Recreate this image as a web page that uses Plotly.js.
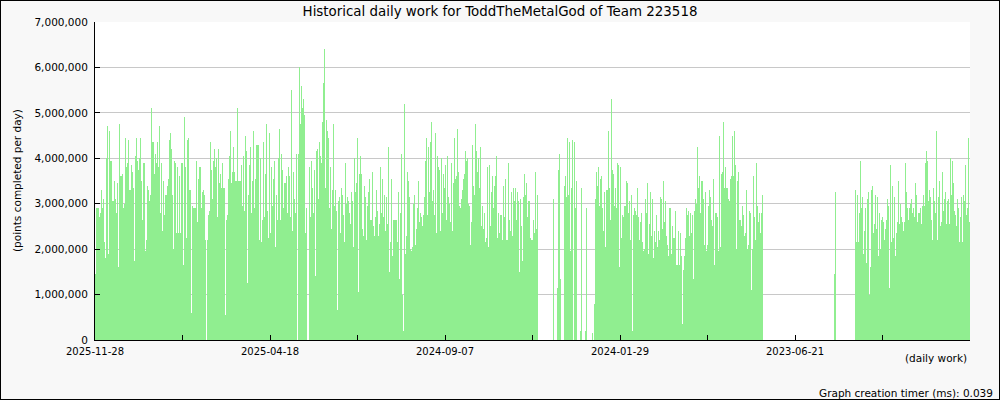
<!DOCTYPE html>
<html><head><meta charset="utf-8">
<script src="https://cdn.plot.ly/plotly-3.0.1.min.js"></script>
<style>html,body{margin:0;padding:0;background:#f8f8f8}#chart{width:998px;height:398px;border:1px solid #000}</style>
</head><body><div id="chart"></div><script>
// Daily work values in millions of points, newest (left) to oldest (right)
var segA = [1.45,2.9,2.9,2.9,2.7,2.8,3.3,2.9,3.1,2.15,
1.8,4.0,4.7,1.9,4.6,3.95,3.95,3.05,3.05,3.5,
3.1,2.8,3.45,1.6,4.75,3.6,3.6,3.65,2.9,3.0,
4.45,3.8,3.9,4.4,3.3,3.3,3.85,3.7,3.35,1.75,
4.05,4.45,3.95,3.75,4.0,4.45,3.5,2.65,3.9,3.9,
1.95,2.2,3.4,3.3,3.05,3.2,5.1,4.35,4.35,3.65,
4.1,3.9,4.35,3.8,4.7,2.8,3.9,2.4,3.5,2.75,
3.2,3.2,3.4,3.55,4.4,4.55,4.2,3.2,2.0,3.95,
3.9,2.35,3.8,2.35,3.6,2.35,3.9,3.9,1.65,4.9,
3.8,2.25,4.4,4.45,3.3,3.3,0.6,2.95,2.9,2.9,
2.9,3.95,2.6,3.55,3.8,3.8,2.9,3.25,3.3,3.2,
2.2,0,2.2,2.75,2.85,4.35,3.75,3.1,3.95,4.2,
3.8,4.0,2.7,4.2,3.45,3.65,3.35,3.9,3.35,3.35,
0.55,2.65,2.75,3.55,4.05,4.6,3.45,3.7,4.25,3.7,
3.5,3.5,5.1,3.5,3.5,3.5];
var segB = [3.85,2.95,4.05,2.85,4.5,4.15,1.25,3.2,3.85,4.25,
2.8,3.5,4.6,2.9,3.55,4.3,4.3,4.3,2.2,4.0,
2.15,2.65,4.35,2.7,3.65,4.75,2.85,2.25,4.55,2.35,
3.8,2.95,3.55,3.95,2.05,3.2,2.65,4.0,4.65,2.65,
4.1,3.75,2.9,3.45,3.45,3.6,2.8,3.8,3.6,2.7,
5.5,2.4,3.7,3.1,2.8,4.1,0,4.1,6.0,4.75,
5.6,5.1,5.3,4.95,2.35,2.9,0,0,3.8,2.7,
3.95,3.35,2.8,3.75,1.4,4.15,4.2,3.1,4.35,4.05,
3.9,4.8,5.65,6.4,3.35,4.85,4.6,4.45,2.9,3.8,
2.45,3.3,4.75,2.95,3.3,2.85,0.65,3.05,3.15,2.35,
3.35,3.2,2.75,2.15,3.9,3.0,3.15,3.05,2.8,2.55,
3.25,3.05,2.05,4.0,3.25,3.45,4.45,1.05,3.65,4.05,
3.65,2.45,2.3,3.4,3.15,2.2,2.95,3.25,3.55,2.65,
2.65,3.7,2.5,2.3,2.7,3.3,2.85,2.3,2.55,3.8,
2.8,3.55,2.7,3.2,2.4,3.15];
var segC = [2.55,4.25,1.5,2.15,3.55,1.85,2.65,2.65,2.65,2.65,
2.15,3.25,1.35,2.8,4.1,1.0,0.2,5.2,1.9,2.3,
3.7,3.5,3.15,2.0,1.95,2.05,3.0,3.2,2.1,2.45,
2.9,3.5,2.6,2.8,2.7,2.5,2.75,3.15,3.95,4.45,
2.75,4.25,3.25,4.35,4.8,3.05,3.3,2.75,4.55,2.35,
4.05,3.8,3.75,2.4,4.0,2.8,3.65,3.35,3.85,2.65,
4.05,3.15,3.0,2.6,3.9,2.4,3.45,4.45,3.55,3.6,
4.65,3.7,2.95,2.9,3.1,3.3,3.55,3.65,4.15,3.95,
4.0,3.0,2.95,2.1,2.6,4.3,3.4,3.2,4.75,4.15,
3.7,4.0,3.35,4.25,2.5,2.95,2.45,2.8,2.15,2.25,
3.8,2.05,3.85,2.5,3.25,3.6,2.9,3.4,3.6,4.05,
2.25,2.8,2.35,2.75,2.75,2.2,3.4,2.7,3.55,2.2,
2.2,3.9,2.65,2.4,3.25,2.3,3.35,3.05,3.35,2.65,
3.25,3.05,1.5,3.1,2.5,1.75,3.15,3.65,3.2,3.45,
2.7,3.05,3.05,2.25,2.2,2.2];
var segD = [2.65,2.35,3.7,2.45,2.45,3.2,0,0,0,0,
0,0,0,0,0,0,0,0,0,0,
0,3.1,0,0,0,1.15,3.75,4.1,1.35,0,
0,0,3.4,3.6,3.15,4.45,3.2,4.35,1.95,3.35,
4.4,0,4.35,2.9,3.5,0,0,0,0.2,3.35,
0,0,0,0.2,2.9,0,0,0,0,0,
0.15,0,0.8,3.1,3.7,3.4,3.8,2.95,3.55,3.6,
2.9,2.4,3.25,2.05,3.3,3.3,4.6,3.35,2.65,5.3,
3.75,3.65,2.95,3.35,2.9,3.9,3.85,1.6,3.8,2.25,
2.75,2.7,2.95,2.95,3.5,3.45,2.8,3.05,2.2,3.2,
0.2,2.75,2.9,2.85,2.75,3.35,2.7,2.2,2.6,2.8,
2.15,1.95,2.0,3.1,2.8,3.45,1.9,2.55,3.25,2.3,
3.1,1.8,2.4,2.15,2.75,2.05,2.4,2.2,3.15,3.1,
2.45,3.5,2.6,3.05,2.3,2.1,1.85,2.9,2.9,1.9,
2.5,2.25,2.25,2.85,1.65,1.65];
var segE = [2.4,1.65,2.35,1.85,0.35,1.55,1.85,2.25,2.9,2.75,
2.85,2.3,2.8,2.35,2.75,1.35,2.85,3.1,3.0,4.25,
3.35,3.6,2.8,3.5,3.5,3.1,2.1,3.25,1.95,2.1,
2.95,3.3,3.15,2.65,2.5,3.55,1.65,2.8,2.8,2.7,
1.95,4.5,2.05,3.65,3.7,4.8,3.35,3.8,3.35,3.35,
3.1,3.05,3.55,3.6,4.5,3.6,4.6,3.85,2.0,3.5,
3.7,2.65,2.65,2.5,2.95,2.75,2.3,2.35,3.3,2.0,
2.1,2.85,2.8,1.1,2.0,3.6,2.7,2.2,3.9,2.95,
2.6,2.8,2.35,2.8,3.2,0,0,0,0,0,
0,0,0,0,0,0,0,0,0,0,
0,0,0,0,0,0,0,0,0,0,
0,0,0,0,0,0,0,0,0,0,
0,0,0,0,0,0,0,0,0,0,
0,0,0,0,0,0,0,0,0,0,
0,0,0,0,0,0];
var segF = [0,0,0,0,0,0,0,0,0,0,
1.45,3.25,0,0,0,0,0,0,0,0,
0,0,0,0,0,0,0,0,0,0,0,
3.3,2.15,3.2,2.15,2.8,3.95,2.9,3.15,1.9,2.4,
2.9,1.7,3.1,3.25,1.0,1.6,3.3,3.4,2.35,2.55,
3.2,2.45,3.15,1.85,2.8,2.0,2.65,2.7,2.6,2.2,
2.45,2.65,3.1,2.95,1.15,3.85,2.15,3.4,2.25,3.15,
1.85,2.35,2.6,3.5,2.55,3.0,2.7,2.6,2.4,2.6,
3.9,3.25,2.9,2.65,2.9,3.0,3.1,2.8,2.9,2.7,
3.45,3.2,2.6,2.8,2.8,2.9,2.55,2.95,3.2,2.95,
3.9,4.15,3.95,3.05,3.3,3.15,2.65,2.2,3.35,3.05,
2.8,4.6,2.2,3.15,3.5,2.5,2.6,3.7,2.85,3.1,
3.25,2.55,3.05,3.1,2.55,4.0,3.2,3.95,3.45,2.85,
2.75,2.5,3.1,2.9,2.15,2.7,3.15,2.15,3.2,3.05,
3.85,2.75,2.9,4.45,2.6];
var tickLabels = ['2025-11-28','','2025-04-18','','2024-09-07','','2024-01-29','','2023-06-21','',''];

var work = segA.concat(segB, segC, segD, segE, segF);
var N = work.length;
var xs = [], ys = [];
for (var i = 0; i < N; i++) { xs.push(i); ys.push(work[i] * 1e6); }
var tickvals = [];
for (var k = 0; k < tickLabels.length; k++) tickvals.push(-0.5 + k * N / (tickLabels.length - 1));

var font = 'DejaVu Sans, sans-serif';
var fs = 10.5;
var data = [{
  type: 'bar', x: xs, y: ys,
  marker: {color: '#90ee90', line: {width: 0}},
  hoverinfo: 'y'
}];
var layout = {
  width: 998, height: 398,
  margin: {l: 94, r: 29, t: 21, b: 59, pad: 0},
  paper_bgcolor: '#f8f8f8', plot_bgcolor: '#ffffff',
  bargap: 0, showlegend: false,
  font: {family: font, size: fs, color: '#000'},
  title: {text: 'Historical daily work for ToddTheMetalGod of Team 223518',
          font: {family: font, size: 13.4, color: '#000'},
          x: 0.5, xanchor: 'center', y: 1 - 10/398, yref: 'container', yanchor: 'middle'},
  xaxis: {range: [-0.5, N - 0.5], tickmode: 'array', tickvals: tickvals, ticktext: tickLabels,
          ticks: 'inside', ticklen: 5, tickcolor: '#000', tickwidth: 1,
          showline: true, linecolor: '#000', linewidth: 1, showgrid: false, zeroline: false,
          tickfont: {family: font, size: 10, color: '#000'}, ticklabelstandoff: 2, fixedrange: true},
  yaxis: {range: [0, 7e6], dtick: 1e6, tick0: 0, tickformat: ',d',
          ticks: 'inside', ticklen: 5, tickcolor: '#000', tickwidth: 1,
          showline: true, linecolor: '#000', linewidth: 1,
          showgrid: true, gridcolor: '#c8c8c8', gridwidth: 1, zeroline: false,
          tickfont: {family: font, size: fs, color: '#000'}, ticklabelstandoff: 4, fixedrange: true},
  annotations: [
    {text: '(points completed per day)', xref: 'paper', yref: 'paper', x: (17 - 95) / 875, y: 0.5,
     textangle: -90, showarrow: false, xanchor: 'center', yanchor: 'middle', font: {family: font, size: fs, color: '#000'}},
    {text: '(daily work)', xref: 'paper', yref: 'paper', x: (969 - 95) / 875, y: (340 - 358) / 318,
     showarrow: false, xanchor: 'right', yanchor: 'middle', font: {family: font, size: fs, color: '#000'}},
    {text: 'Graph creation timer (ms): 0.039', xref: 'paper', yref: 'paper', x: (995 - 95) / 875, y: (340 - 393) / 318,
     showarrow: false, xanchor: 'right', yanchor: 'middle', font: {family: font, size: fs, color: '#000'}}
  ]
};
Plotly.newPlot('chart', data, layout, {displayModeBar: false, staticPlot: true});
</script></body></html>
